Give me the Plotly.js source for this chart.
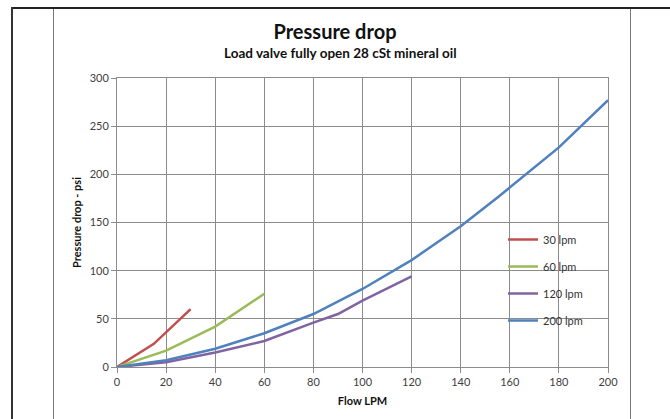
<!DOCTYPE html>
<html>
<head>
<meta charset="utf-8">
<script src="https://cdn.plot.ly/plotly-3.0.1.min.js"></script>
<style>
html,body{margin:0;padding:0;background:#fff;}
#wrap{position:relative;width:670px;height:419px;overflow:hidden;}
#chart{position:absolute;left:0;top:0;width:670px;height:419px;}
.fr{position:absolute;pointer-events:none;}
</style>
</head>
<body>
<div id="wrap">
<div id="chart"></div>
<div class="fr" style="left:11px;top:7px;width:659px;height:2px;background:#222;"></div>
<div class="fr" style="left:11px;top:7px;width:2px;height:412px;background:#333;"></div>
<div class="fr" style="left:53px;top:9px;width:1px;height:410px;background:#777;"></div>
<div class="fr" style="left:630px;top:9px;width:1px;height:410px;background:#777;"></div>
</div>
<script>
const x30 = [0, 15, 30];
const y30 = [0, 24, 60];
const x60 = [0, 20, 40, 60];
const y60 = [0, 17, 42, 76];
const x120 = [0, 20, 40, 60, 80, 90, 100, 120];
const y120 = [0, 5, 15, 27, 46, 55, 69, 94];
const x200 = [0, 20, 40, 60, 80, 100, 120, 140, 155, 180, 200];
const y200 = [0, 7, 19, 35, 55, 81, 111, 146, 176, 228, 277];
const seriesNames = ['30 lpm', '60 lpm', '120 lpm', '200 lpm'];
const colors = ['#C0504D', '#9BBB59', '#8064A2', '#4F81BD'];

const font = 'Lato, "Open Sans", "DejaVu Sans", sans-serif';
const xs = [x30, x60, x120, x200];
const ys = [y30, y60, y120, y200];
const traces = xs.map((x, i) => ({
  x: x, y: ys[i], type: 'scatter', mode: 'lines', name: seriesNames[i],
  legendgroup: 'g' + i,
  line: {color: colors[i], width: 2.5}
}));

const layout = {
  width: 670, height: 419,
  margin: {l: 117, r: 62, t: 78, b: 52},
  paper_bgcolor: 'rgba(0,0,0,0)', plot_bgcolor: '#fff',
  showlegend: true,
  font: {family: font, color: '#404040'},
  title: {text: '<b>Pressure drop</b>', font: {size: 20, color: '#111', family: font},
          x: 0.5, xref: 'container', y: 1 - 32/419, yref: 'container', yanchor: 'middle'},
  annotations: [{
    text: '<b>Load valve fully open 28 cSt mineral oil</b>', xref: 'paper', yref: 'paper',
    x: (340 - 117)/491, y: (367 - 53)/289, xanchor: 'center', yanchor: 'middle',
    showarrow: false, font: {size: 13.5, color: '#111', family: font}
  }],
  xaxis: {
    range: [0, 200], dtick: 20, tick0: 0,
    showgrid: true, gridcolor: '#8c8c8c', gridwidth: 1,
    showline: true, linecolor: '#8c8c8c', linewidth: 1, mirror: true,
    ticks: 'outside', ticklen: 5, tickcolor: '#8c8c8c',
    tickfont: {size: 11, color: '#404040'}, zeroline: false,
    title: {text: '<b>Flow LPM</b>', font: {size: 11, color: '#111'}, standoff: 10}
  },
  yaxis: {
    range: [0, 300], dtick: 50, tick0: 0,
    showgrid: true, gridcolor: '#8c8c8c', gridwidth: 1,
    showline: true, linecolor: '#8c8c8c', linewidth: 1, mirror: true,
    ticks: 'outside', ticklen: 5, tickcolor: '#8c8c8c',
    tickfont: {size: 11, color: '#404040'}, zeroline: false,
    title: {text: '<b>Pressure drop - psi</b>', font: {size: 11, color: '#111'}, standoff: 5}
  },
  legend: {
    x: (503 - 117)/491, y: (367 - 225)/289, xanchor: 'left', yanchor: 'top',
    bgcolor: 'rgba(0,0,0,0)', font: {size: 11, color: '#333'},
    tracegroupgap: 8, itemwidth: 30
  }
};
Plotly.newPlot('chart', traces, layout, {displayModeBar: false, staticPlot: true});
</script>
</body>
</html>
